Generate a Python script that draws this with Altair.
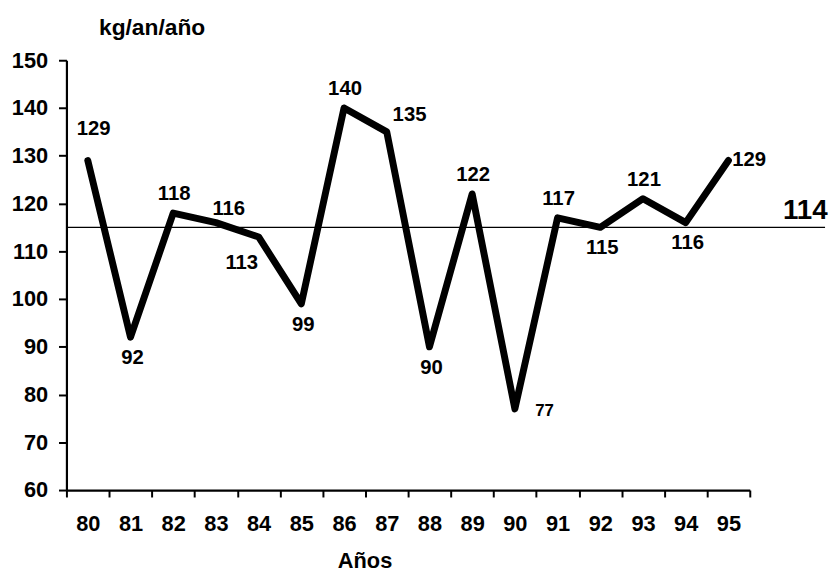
import altair as alt
import pandas as pd

# ---- data ----
years = ["80", "81", "82", "83", "84", "85", "86", "87",
         "88", "89", "90", "91", "92", "93", "94", "95"]
values = [129, 92, 118, 116, 113, 99, 140, 135,
          90, 122, 77, 117, 115, 121, 116, 129]
label_side = ["NN", "S", "N", "NE", "SW", "S", "N", "NE2",
              "S", "N", "E2", "N", "S", "N", "S", "E"]
mean_line_value = 115
mean_label = "114"
y_ticks = [60, 70, 80, 90, 100, 110, 120, 130, 140, 150]

df = pd.DataFrame({"year": years, "value": values, "side": label_side})

FONT = "Liberation Sans"
PLOT_W = 766   # whole plot group (axis spans the first 690 px)
AXIS_W = 690
PLOT_H = 434

x_enc = alt.X(
    "year:N",
    sort=years,
    scale=alt.Scale(range=[0, AXIS_W], paddingInner=0, paddingOuter=0),
    axis=alt.Axis(
        title="Años",
        titleFont=FONT, titleFontSize=22, titleFontWeight="bold",
        titleColor="black",
        titleX=301, titleY=71, titleAlign="center", titleBaseline="middle",
        titleAngle=0,
        labelFont=FONT, labelFontSize=22, labelFontWeight="bold",
        labelColor="black", labelAngle=0, labelPadding=17,
        tickBand="extent", tickSize=7, tickWidth=2, tickColor="black",
        domainColor="black", domainWidth=2.2, grid=False,
    ),
)
y_enc = alt.Y(
    "value:Q",
    scale=alt.Scale(domain=[60, 150], nice=False, zero=False),
    axis=alt.Axis(
        values=y_ticks,
        title="kg/an/año",
        titleFont=FONT, titleFontSize=23, titleFontWeight="bold",
        titleColor="black",
        titleAngle=0, titleX=86, titleY=-33,
        titleAlign="center", titleBaseline="middle",
        labelFont=FONT, labelFontSize=22, labelFontWeight="bold",
        labelColor="black", labelPadding=11,
        tickSize=8, tickWidth=2, tickColor="black",
        domainColor="black", domainWidth=2.2, grid=False,
    ),
)

base = alt.Chart(df)

line = base.mark_line(
    color="black", strokeWidth=7, strokeJoin="round", strokeCap="round"
).encode(x=x_enc, y=y_enc)

mean_rule = alt.Chart(pd.DataFrame({"v": [mean_line_value]})).mark_rule(
    color="black", strokeWidth=1.4
).encode(y=alt.Y("v:Q"), x=alt.value(0), x2=alt.value(PLOT_W))

mean_text = alt.Chart(pd.DataFrame({"v": [mean_line_value], "t": [mean_label]})).mark_text(
    font=FONT, fontSize=28, fontWeight="bold", color="black",
    align="center", baseline="middle", dy=-16
).encode(y=alt.Y("v:Q"), x=alt.value(746), text="t:N")

# label placement styles
LS = 20.5
placements = {
    "NN": dict(dx=6, dy=-32, size=LS),
    "N": dict(dx=1, dy=-19, size=LS),
    "S": dict(dx=2, dy=21, size=LS),
    "NE": dict(dx=13, dy=-14, size=LS),
    "NE2": dict(dx=23, dy=-17, size=LS),
    "SW": dict(dx=-17, dy=26, size=LS),
    "E": dict(dx=21, dy=0, size=LS),
    "E2": dict(dx=30, dy=2, size=17),
}

label_layers = []
for key, p in placements.items():
    label_layers.append(
        base.transform_filter(alt.datum.side == key).mark_text(
            font=FONT, fontSize=p["size"], fontWeight="bold", color="black",
            align="center", baseline="middle", dx=p["dx"], dy=p["dy"]
        ).encode(
            x=alt.X("year:N", sort=years),
            y=alt.Y("value:Q"),
            text=alt.Text("value:Q"),
        )
    )

chart = alt.layer(mean_rule, line, mean_text, *label_layers).properties(
    width=PLOT_W,
    height=PLOT_H,
    autosize=alt.AutoSizeParams(type="none"),
    padding={"left": 59, "top": 50, "right": 5, "bottom": 80},
    background="white",
).configure_view(stroke=None)

chart.save("out.html", embed_options={"renderer": "svg", "actions": False})
